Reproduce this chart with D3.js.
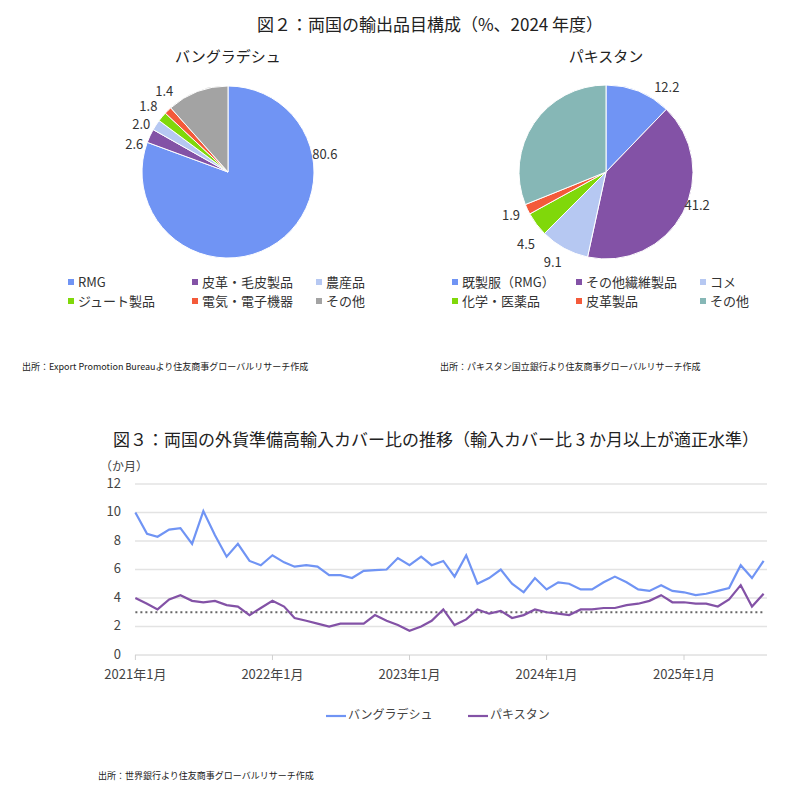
<!DOCTYPE html>
<html><head><meta charset="utf-8">
<script src="https://cdn.jsdelivr.net/npm/d3@7"></script>
<style>body{margin:0;background:#fff;font-family:"Noto Sans CJK JP","Noto Sans",sans-serif;}</style>
</head><body><svg id="c" width="796" height="795"></svg>
<script>
const bdLabels = ['RMG', '皮革・毛皮製品', '農産品', 'ジュート製品', '電気・電子機器', 'その他'];
const bdValues = [80.6, 2.6, 2.0, 1.8, 1.4, 11.6];
const bdColors = ['#7094f4', '#8352a6', '#b6c8f2', '#80d80a', '#f45a3a', '#a3a3a3'];

const pkLabels = ['既製服（RMG）', 'その他繊維製品', 'コメ', '化学・医薬品', '皮革製品', 'その他'];
const pkValues = [12.2, 41.2, 9.1, 4.5, 1.9, 31.1];
const pkColors = ['#7094f4', '#8352a6', '#b6c8f2', '#80d80a', '#f45a3a', '#86b7b6'];

const months = d3.range(56).map(i => new Date(2021, i, 1));
const bangladesh = [10.0, 8.5, 8.3, 8.8, 8.9, 7.8, 10.1, 8.4, 6.9, 7.8, 6.6, 6.3,
  7.0, 6.5, 6.2, 6.3, 6.2, 5.6, 5.6, 5.4, 5.9, 5.95, 6.0, 6.8,
  6.3, 6.9, 6.3, 6.6, 5.5, 7.0, 5.0, 5.4, 6.0, 5.0, 4.4, 5.4,
  4.6, 5.1, 5.0, 4.6, 4.6, 5.1, 5.5, 5.1, 4.6, 4.5, 4.9, 4.5,
  4.4, 4.2, 4.3, 4.5, 4.7, 6.3, 5.4, 6.6];
const pakistan = [4.0, 3.6, 3.2, 3.9, 4.2, 3.8, 3.7, 3.8, 3.5, 3.4, 2.8, 3.3,
  3.8, 3.4, 2.6, 2.4, 2.2, 2.0, 2.2, 2.2, 2.2, 2.8, 2.4, 2.1,
  1.7, 2.0, 2.4, 3.2, 2.1, 2.5, 3.2, 2.9, 3.1, 2.6, 2.8, 3.2,
  3.0, 2.9, 2.8, 3.2, 3.2, 3.3, 3.3, 3.5, 3.6, 3.8, 4.2, 3.7,
  3.7, 3.6, 3.6, 3.4, 3.9, 4.9, 3.4, 4.3];
const yTicks = [0, 2, 4, 6, 8, 10, 12];
const xTicks = [2021, 2022, 2023, 2024, 2025].map(y => new Date(y, 0, 1));

const svg = d3.select('#c');
const txt = '#222';

svg.append('text').attr('x', 430).attr('y', 31).attr('text-anchor', 'middle')
  .attr('font-size', 17).attr('fill', txt).text('図２：両国の輸出品目構成（%、2024 年度）');

// pies
function drawPie(cx, cy, r, title, labels, values, colors, legX, labelOff) {
  const g = svg.append('g').attr('transform', `translate(${cx},${cy})`);
  const arcs = d3.pie().sort(null)(values);
  const arc = d3.arc().innerRadius(0).outerRadius(r);
  g.selectAll('path').data(arcs).join('path')
    .attr('d', arc).attr('fill', (d, i) => colors[i])
    .attr('stroke', '#fff').attr('stroke-width', 1);
  g.selectAll('text.lbl').data(arcs).join('text').attr('class', 'lbl')
    .attr('x', (d, i) => { const a = (d.startAngle + d.endAngle) / 2; return Math.sin(a) * (r + labelOff[i][0]) + labelOff[i][1]; })
    .attr('y', (d, i) => { const a = (d.startAngle + d.endAngle) / 2; return -Math.cos(a) * (r + labelOff[i][0]) + labelOff[i][2]; })
    .attr('text-anchor', 'middle').attr('dominant-baseline', 'middle')
    .attr('font-size', 13).attr('fill', '#333')
    .text((d, i) => labelOff[i][3] ? '' : values[i].toFixed(1));
  svg.append('text').attr('x', cx).attr('y', 62).attr('text-anchor', 'middle')
    .attr('font-size', 15).attr('fill', txt).text(title);
  const lg = svg.append('g');
  labels.forEach((l, i) => {
    const x = legX + (i % 3) * 124, y = 283 + Math.floor(i / 3) * 19;
    lg.append('rect').attr('x', x).attr('y', y - 4).attr('width', 6).attr('height', 6).attr('fill', colors[i]);
    lg.append('text').attr('x', x + 10).attr('y', y).attr('dominant-baseline', 'middle')
      .attr('font-size', 13).attr('fill', '#333').text(l);
  });
}
drawPie(228, 172, 86, 'バングラデシュ', bdLabels, bdValues, bdColors, 68,
  [[22, 35, -105], [14, -3, 15], [14, -3, 8], [14, -3, 0], [14, 6, -8], [10, 0, 0, true]]);
drawPie(606, 172, 87, 'パキスタン', pkLabels, pkValues, pkColors, 452,
  [[22, 20, 18], [22, -5, -17], [20, -2, -2], [18, 4, 10], [16, -2, 0], [10, 0, 0, true]]);

svg.append('text').attr('x', 22).attr('y', 370).attr('font-size', 9).attr('fill', txt)
  .text('出所：Export Promotion Bureauより住友商事グローバルリサーチ作成');
svg.append('text').attr('x', 440).attr('y', 370).attr('font-size', 9).attr('fill', txt)
  .text('出所：パキスタン国立銀行より住友商事グローバルリサーチ作成');

// line chart
svg.append('text').attr('x', 436).attr('y', 446).attr('text-anchor', 'middle')
  .attr('font-size', 17).attr('fill', txt).text('図３：両国の外貨準備高輸入カバー比の推移（輸入カバー比 3 か月以上が適正水準）');

const x = d3.scaleTime().domain([new Date(2020, 11, 31), new Date(2025, 7, 10)]).range([135, 767]);
const y = d3.scaleLinear().domain([0, 12]).range([655, 484]);

svg.append('g').selectAll('line').data(yTicks.slice(1)).join('line')
  .attr('x1', 135).attr('x2', 767).attr('y1', d => y(d)).attr('y2', d => y(d))
  .attr('stroke', '#e3e3e3').attr('stroke-width', 1.5);
svg.append('line').attr('x1', 135).attr('x2', 767).attr('y1', y(0)).attr('y2', y(0)).attr('stroke', '#d0d0d0');
svg.append('g').selectAll('line').data(xTicks).join('line')
  .attr('x1', d => x(d)).attr('x2', d => x(d)).attr('y1', y(0)).attr('y2', y(0) + 5).attr('stroke', '#d0d0d0');
svg.append('g').selectAll('text').data(yTicks).join('text')
  .attr('x', 121).attr('y', d => y(d)).attr('text-anchor', 'end').attr('dominant-baseline', 'middle')
  .attr('font-size', 13).attr('fill', '#444').text(d => d);
svg.append('g').selectAll('text').data(xTicks).join('text')
  .attr('x', d => x(d)).attr('y', 679).attr('text-anchor', 'middle')
  .attr('font-size', 13).attr('fill', '#444').text(d => d.getFullYear() + '年1月');
svg.append('text').attr('x', 100).attr('y', 471).attr('font-size', 12).attr('fill', '#444').text('（か月）');

svg.append('line').attr('x1', x(months[0])).attr('x2', x(months[55]))
  .attr('y1', y(3)).attr('y2', y(3)).attr('stroke', '#666').attr('stroke-width', 2).attr('stroke-dasharray', '2,3');

const line = d3.line().x((d, i) => x(months[i])).y(d => y(d));
svg.append('path').attr('d', line(bangladesh)).attr('fill', 'none').attr('stroke', '#7094f4').attr('stroke-width', 2.2);
svg.append('path').attr('d', line(pakistan)).attr('fill', 'none').attr('stroke', '#8352a6').attr('stroke-width', 2.2);

[['バングラデシュ', '#7094f4', 326], ['パキスタン', '#8352a6', 468]].forEach(([l, c, lx]) => {
  svg.append('line').attr('x1', lx).attr('x2', lx + 20).attr('y1', 716).attr('y2', 716).attr('stroke', c).attr('stroke-width', 2.2);
  svg.append('text').attr('x', lx + 22).attr('y', 716).attr('dominant-baseline', 'middle')
    .attr('font-size', 12).attr('fill', '#444').text(l);
});

svg.append('text').attr('x', 98).attr('y', 779).attr('font-size', 9).attr('fill', txt)
  .text('出所：世界銀行より住友商事グローバルリサーチ作成');
</script></body></html>
